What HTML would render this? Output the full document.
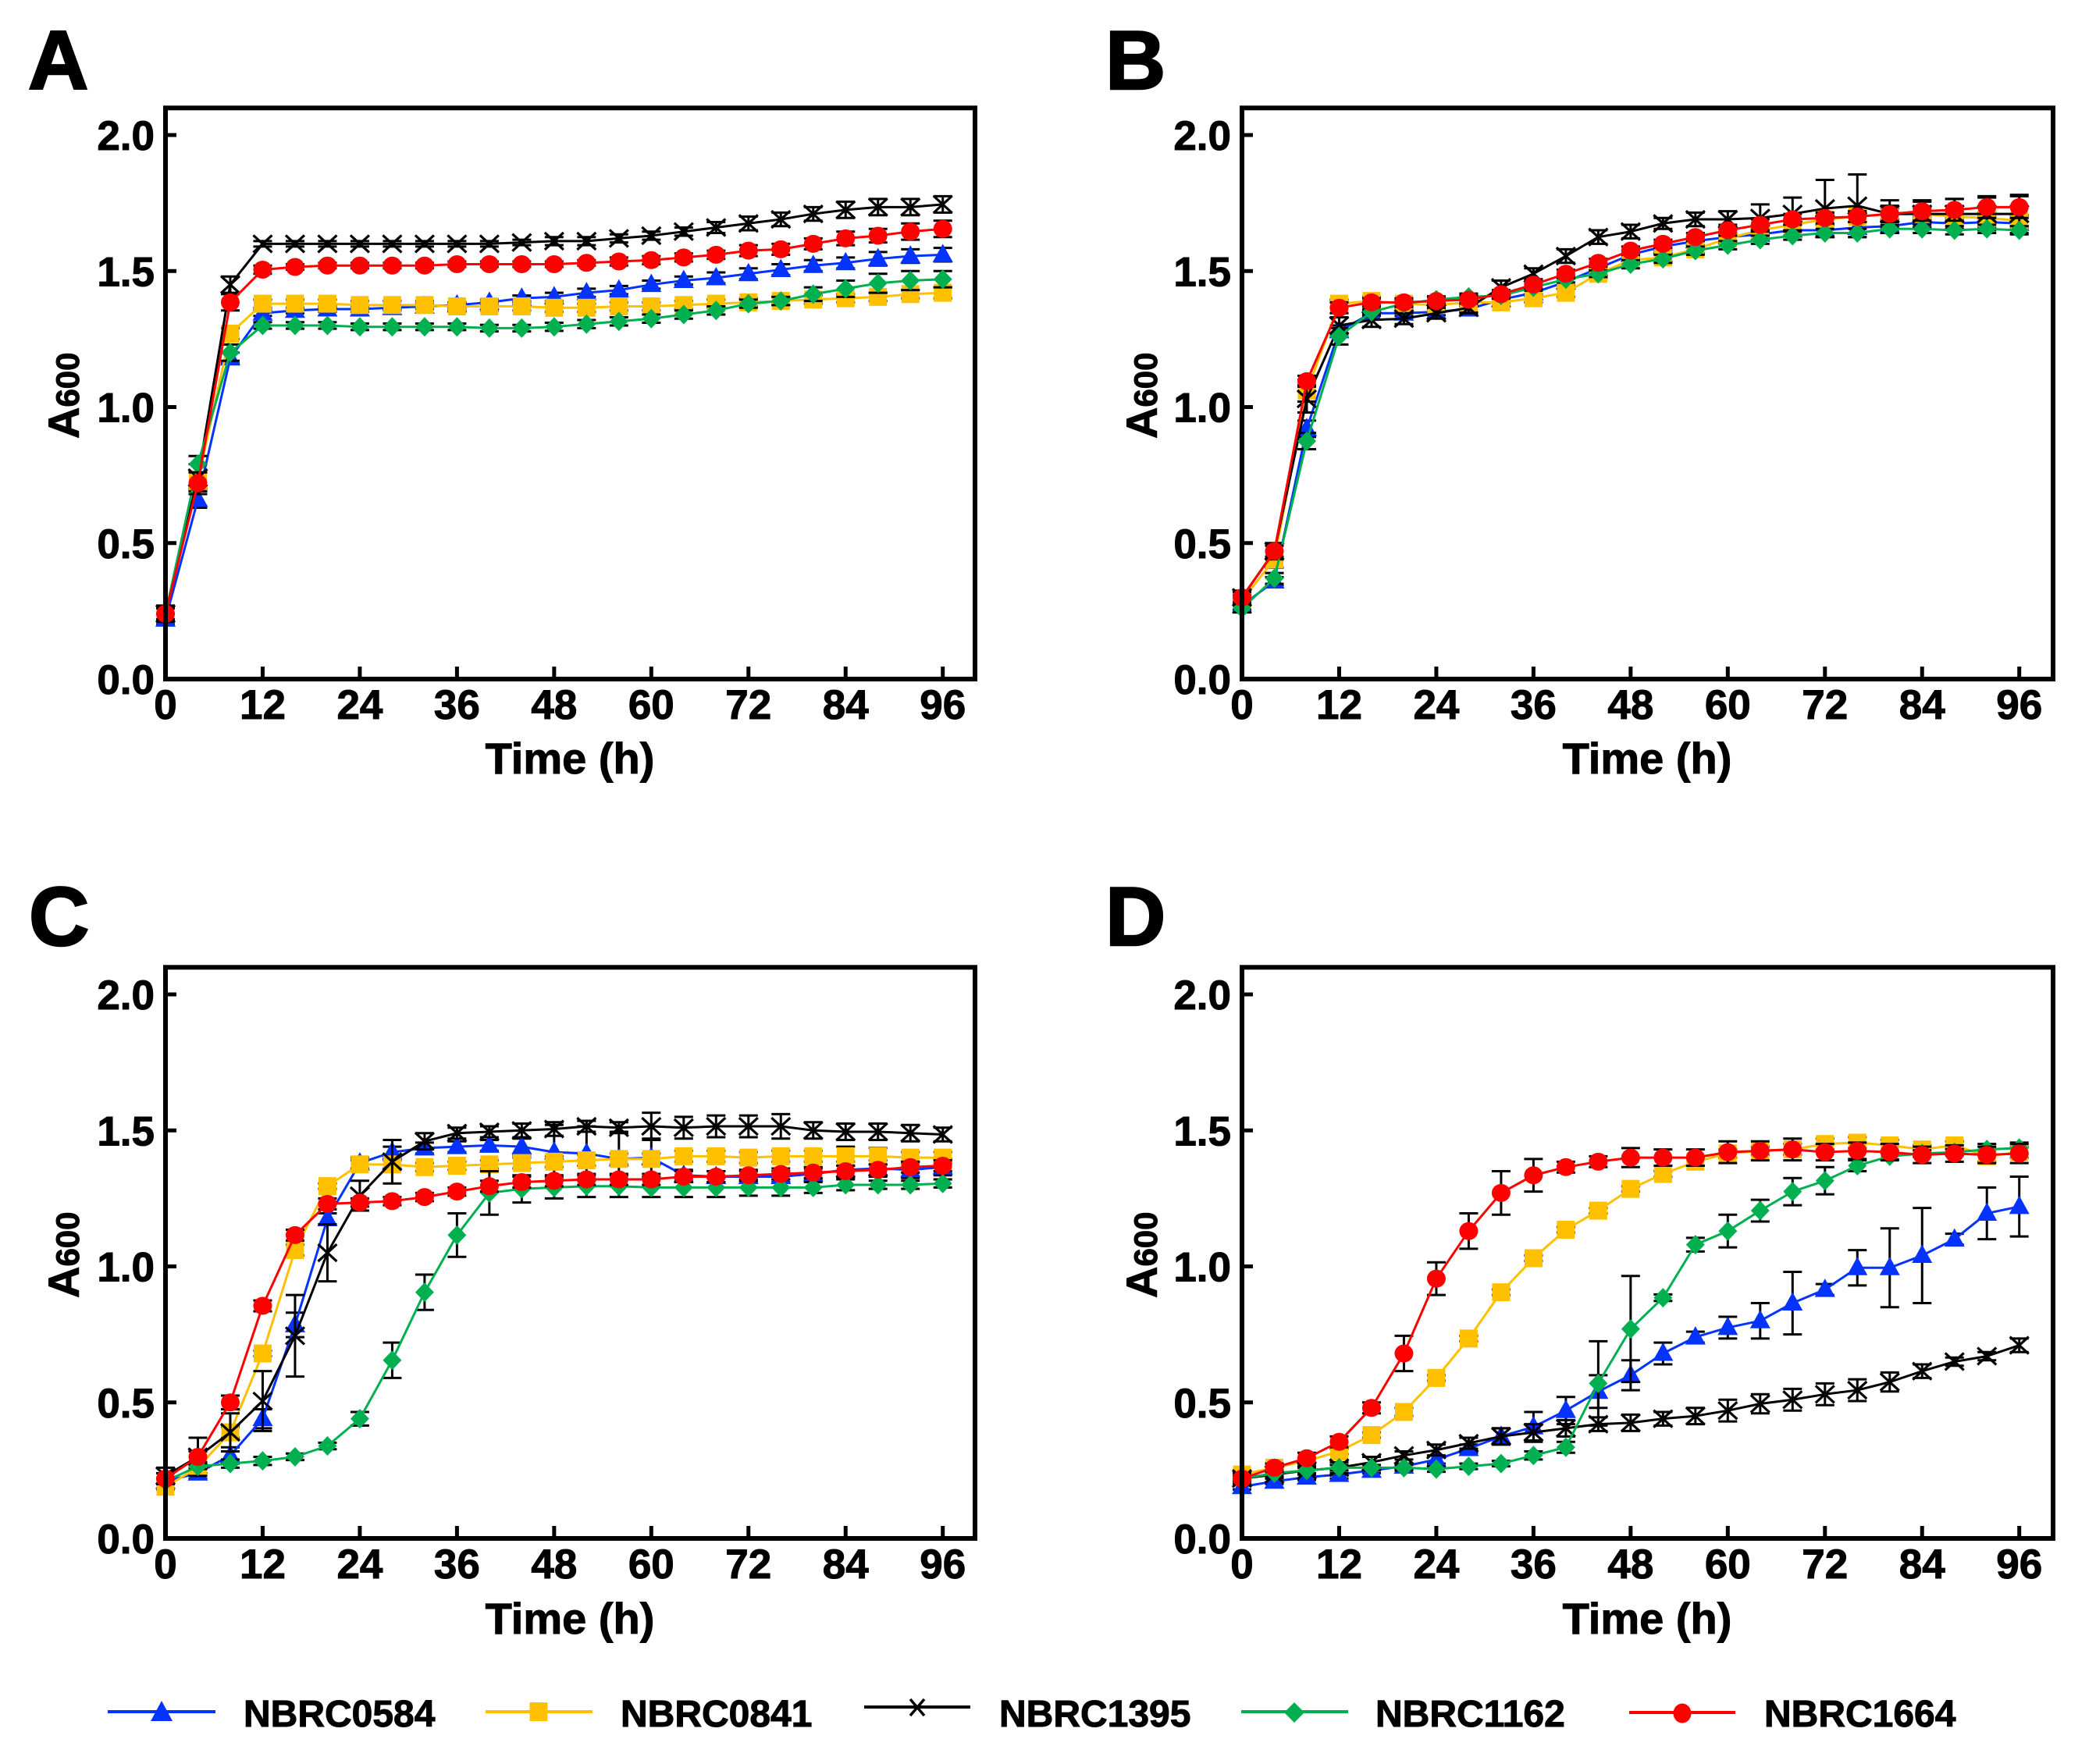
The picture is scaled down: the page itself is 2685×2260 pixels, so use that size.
<!DOCTYPE html>
<html>
<head>
<meta charset="utf-8">
<title>Growth curves</title>
<style>
html,body{margin:0;padding:0;background:#fff;}
svg{display:block;}
text{font-family:"Liberation Sans",Arial,sans-serif;font-weight:bold;fill:#000;stroke:#000;stroke-width:1px;}
</style>
</head>
<body>
<svg id="figure" xmlns="http://www.w3.org/2000/svg" width="2685" height="2260" viewBox="0 0 2685 2260">
<rect x="0" y="0" width="2685" height="2260" fill="#fff"/>
<text x="36" y="114" font-size="107" style="stroke-width:2.5px">A</text>
<text x="1416" y="114" font-size="107" style="stroke-width:2.5px">B</text>
<text x="37" y="1211" font-size="107" style="stroke-width:2.5px">C</text>
<text x="1416" y="1211" font-size="107" style="stroke-width:2.5px">D</text>
<text x="730" y="991" font-size="56" text-anchor="middle">Time (h)</text>
<text x="2110" y="991" font-size="56" text-anchor="middle">Time (h)</text>
<text x="730" y="2093" font-size="56" text-anchor="middle">Time (h)</text>
<text x="2110" y="2093" font-size="56" text-anchor="middle">Time (h)</text>
<text transform="translate(101,562) rotate(-90)"><tspan font-size="56">A</tspan><tspan font-size="42">600</tspan></text>
<text transform="translate(1482,562) rotate(-90)"><tspan font-size="56">A</tspan><tspan font-size="42">600</tspan></text>
<text transform="translate(101,1663) rotate(-90)"><tspan font-size="56">A</tspan><tspan font-size="42">600</tspan></text>
<text transform="translate(1482,1663) rotate(-90)"><tspan font-size="56">A</tspan><tspan font-size="42">600</tspan></text>

<g>
  <g>
    <line x1="138" y1="2193" x2="276" y2="2193" stroke="#0433ff" stroke-width="4"/>
    <polygon points="207,2179 221,2205 193,2205" fill="#0433ff"/>
    <text x="312" y="2212" font-size="48">NBRC0584</text>
  </g>
  <g>
    <line x1="622" y1="2193" x2="759" y2="2193" stroke="#ffc000" stroke-width="4"/>
    <rect x="678.5" y="2181" width="23" height="24" fill="#ffc000"/>
    <text x="795" y="2212" font-size="48">NBRC0841</text>
  </g>
  <g>
    <line x1="1107" y1="2187" x2="1243" y2="2187" stroke="#000" stroke-width="4"/>
    <path d="M1166,2177 L1184,2198 M1184,2177 L1166,2198" stroke="#000" stroke-width="3.5" fill="none"/>
    <text x="1280" y="2212" font-size="48">NBRC1395</text>
  </g>
  <g>
    <line x1="1590" y1="2193" x2="1727" y2="2193" stroke="#00b050" stroke-width="4"/>
    <polygon points="1658,2181 1671,2194 1658,2207 1645,2194" fill="#00b050"/>
    <text x="1762" y="2212" font-size="48">NBRC1162</text>
  </g>
  <g>
    <line x1="2087" y1="2194" x2="2223" y2="2194" stroke="#ff0000" stroke-width="4"/>
    <ellipse cx="2155" cy="2195" rx="11.5" ry="12.5" fill="#ff0000"/>
    <text x="2260" y="2212" font-size="48">NBRC1664</text>
  </g>
</g>
</svg>
<script>
var times = [0,4,8,12,16,20,24,28,32,36,40,44,48,52,56,60,64,68,72,76,80,84,88,92,96];
var xTickLabels = [0,12,24,36,48,60,72,84,96];
var yTickLabels = ["0.0","0.5","1.0","1.5","2.0"];
var yTickValues = [0,0.5,1,1.5,2];

var a0584 = [.22,.66,1.18,1.345,1.355,1.36,1.36,1.365,1.37,1.375,1.385,1.40,1.405,1.42,1.43,1.45,1.465,1.475,1.49,1.505,1.52,1.53,1.545,1.555,1.56];
var a0841 = [.24,.73,1.27,1.38,1.38,1.38,1.375,1.375,1.375,1.37,1.37,1.37,1.365,1.365,1.37,1.37,1.375,1.38,1.385,1.39,1.395,1.40,1.405,1.415,1.42];
var a1395 = [.24,.74,1.45,1.60,1.60,1.60,1.60,1.60,1.60,1.60,1.60,1.605,1.61,1.61,1.62,1.63,1.645,1.66,1.675,1.69,1.71,1.725,1.735,1.735,1.745];
var a1162 = [.24,.79,1.20,1.30,1.30,1.30,1.295,1.295,1.295,1.295,1.29,1.29,1.295,1.305,1.315,1.325,1.34,1.355,1.38,1.39,1.415,1.435,1.455,1.465,1.47];
var a1664 = [.24,.72,1.385,1.505,1.515,1.52,1.52,1.52,1.52,1.525,1.525,1.525,1.525,1.53,1.535,1.54,1.55,1.56,1.575,1.58,1.60,1.62,1.63,1.645,1.655];
var aErr0584 = [.02,.03,.02,.01,.01,.01,.01,.01,.01,.01,.01,.01,.015,.015,.015,.015,.015,.02,.02,.02,.02,.02,.025,.025,.025];
var aErr0841 = [.02,.03,.02,.015,.015,.015,.015,.015,.015,.015,.015,.015,.015,.015,.015,.015,.015,.015,.015,.015,.015,.015,.015,.015,.02];
var aErr1395 = [.03,.05,.03,.01,.01,.01,.01,.01,.01,.01,.01,.01,.015,.015,.015,.015,.015,.02,.025,.025,.025,.03,.03,.03,.03];
var aErr1162 = [.02,.03,.03,.012,.012,.012,.012,.012,.012,.012,.012,.012,.015,.015,.015,.015,.015,.015,.015,.015,.025,.03,.035,.035,.03];
var aErr1664 = [.02,.04,.03,.015,.01,.01,.01,.01,.01,.01,.01,.01,.01,.01,.015,.015,.015,.015,.02,.02,.02,.025,.025,.03,.03];

var b0584 = [.27,.36,.92,1.28,1.345,1.345,1.35,1.36,1.395,1.42,1.46,1.51,1.56,1.59,1.61,1.625,1.635,1.65,1.65,1.66,1.665,1.68,1.675,1.68,1.675];
var b0841 = [.29,.44,1.06,1.38,1.39,1.38,1.375,1.385,1.385,1.40,1.42,1.49,1.54,1.55,1.58,1.62,1.65,1.67,1.69,1.70,1.71,1.71,1.70,1.695,1.685];
var b1395 = [.30,.47,1.03,1.30,1.32,1.325,1.345,1.365,1.44,1.49,1.555,1.625,1.645,1.675,1.69,1.69,1.695,1.71,1.73,1.74,1.71,1.71,1.71,1.71,1.71];
var b1162 = [.26,.37,.875,1.26,1.35,1.38,1.395,1.405,1.41,1.44,1.47,1.49,1.525,1.545,1.575,1.595,1.615,1.63,1.64,1.64,1.655,1.655,1.65,1.655,1.65];
var b1664 = [.30,.47,1.095,1.365,1.385,1.385,1.39,1.395,1.415,1.45,1.49,1.53,1.575,1.60,1.625,1.65,1.67,1.69,1.695,1.70,1.71,1.72,1.725,1.735,1.735];
var bErr0584 = [.015,.015,.03,.02,.01,.01,.012,.012,.012,.012,.012,.012,.015,.015,.015,.015,.02,.02,.02,.02,.02,.02,.02,.02,.02];
var bErr0841 = [.02,.03,.04,.015,.015,.015,.015,.015,.015,.015,.015,.015,.015,.015,.015,.015,.02,.02,.02,.02,.02,.02,.02,.02,.02];
var bErr1395 = [.025,.03,.05,.03,.025,.02,.02,.02,.025,.02,.025,.025,.025,.02,.025,.03,.05,.06,.105,.115,.05,.05,.055,.06,.07];
var bErr1162 = [.015,.02,.03,.03,.01,.012,.012,.012,.012,.012,.012,.012,.015,.015,.015,.015,.015,.015,.015,.015,.015,.015,.015,.015,.015];
var bErr1664 = [.02,.02,.02,.02,.015,.015,.015,.015,.015,.015,.015,.015,.015,.015,.015,.02,.02,.02,.02,.02,.03,.035,.04,.04,.04];

var c0584 = [.21,.24,.305,.44,.785,1.175,1.38,1.42,1.435,1.44,1.445,1.44,1.42,1.415,1.395,1.40,1.335,1.33,1.33,1.33,1.34,1.355,1.36,1.355,1.365];
var c0841 = [.19,.26,.39,.68,1.06,1.295,1.375,1.375,1.365,1.37,1.375,1.38,1.385,1.39,1.395,1.395,1.405,1.405,1.40,1.405,1.405,1.405,1.405,1.40,1.40];
var c1395 = [.23,.30,.39,.505,.745,1.05,1.26,1.385,1.46,1.49,1.495,1.50,1.505,1.515,1.51,1.515,1.51,1.515,1.515,1.515,1.50,1.495,1.495,1.49,1.485];
var c1162 = [.21,.265,.275,.285,.30,.34,.44,.655,.905,1.115,1.27,1.285,1.29,1.295,1.295,1.29,1.29,1.29,1.29,1.29,1.29,1.30,1.30,1.30,1.305];
var c1664 = [.22,.30,.50,.855,1.115,1.23,1.235,1.24,1.255,1.275,1.295,1.31,1.315,1.32,1.32,1.32,1.33,1.33,1.335,1.34,1.345,1.35,1.355,1.365,1.37];
var cErr0584 = [.01,.02,.03,.035,.045,.02,.02,.02,.02,.02,.02,.03,.10,.10,.10,.07,.02,.02,.02,.02,.02,.03,.03,.03,.03];
var cErr0841 = [.01,.02,.02,.01,.02,.01,.015,.015,.015,.015,.015,.02,.02,.02,.02,.02,.02,.02,.02,.02,.02,.035,.03,.02,.02];
var cErr1395 = [.03,.07,.07,.11,.15,.105,.055,.08,.03,.02,.02,.025,.025,.02,.02,.05,.04,.04,.04,.045,.03,.03,.03,.03,.025];
var cErr1162 = [.01,.01,.015,.015,.012,.012,.025,.065,.065,.08,.08,.05,.04,.04,.04,.035,.035,.035,.03,.03,.02,.02,.015,.015,.015];
var cErr1664 = [.02,.02,.025,.02,.02,.02,.015,.015,.015,.015,.02,.02,.02,.02,.02,.02,.02,.02,.02,.02,.02,.02,.02,.02,.02];

var d0584 = [.19,.21,.225,.235,.25,.265,.29,.33,.375,.41,.47,.54,.60,.68,.74,.775,.80,.865,.915,.995,.995,1.04,1.10,1.195,1.22];
var d0841 = [.235,.26,.285,.32,.38,.465,.59,.735,.905,1.03,1.135,1.205,1.285,1.34,1.385,1.415,1.425,1.43,1.45,1.455,1.445,1.43,1.445,1.405,1.42];
var d1395 = [.22,.235,.25,.26,.28,.305,.325,.35,.375,.39,.405,.42,.425,.44,.45,.47,.495,.51,.53,.545,.575,.615,.65,.67,.71];
var d1162 = [.22,.24,.25,.26,.26,.26,.255,.265,.275,.305,.335,.57,.77,.885,1.08,1.13,1.205,1.275,1.315,1.37,1.405,1.415,1.42,1.43,1.435];
var d1664 = [.22,.26,.295,.355,.48,.68,.955,1.13,1.27,1.335,1.365,1.385,1.40,1.40,1.40,1.42,1.425,1.43,1.42,1.425,1.42,1.41,1.415,1.41,1.415];
var dErr0584 = [.01,.01,.01,.015,.01,.01,.015,.015,.03,.055,.05,.06,.055,.04,.02,.04,.065,.115,.02,.065,.145,.175,.02,.095,.11];
var dErr0841 = [.015,.015,.01,.01,.01,.015,.01,.01,.01,.01,.01,.01,.01,.01,.015,.015,.015,.02,.02,.02,.02,.015,.015,.02,.02];
var dErr1395 = [.01,.01,.015,.02,.02,.015,.02,.02,.03,.03,.03,.025,.03,.025,.03,.04,.035,.04,.04,.04,.035,.025,.015,.015,.025];
var dErr1162 = [.01,.01,.01,.01,.01,.01,.01,.01,.01,.015,.02,.155,.195,.012,.025,.06,.04,.05,.05,.02,.012,.012,.012,.02,.02];
var dErr1664 = [.02,.015,.02,.02,.02,.065,.06,.065,.08,.06,.02,.02,.035,.03,.03,.04,.035,.04,.03,.03,.03,.03,.03,.03,.035];

var seriesNames = ["nbrc0584","nbrc0841","nbrc1395","nbrc1162","nbrc1664"];
var seriesColors = ["#0433ff","#ffc000","#000000","#00b050","#ff0000"];
var panelNames = ["a","b","c","d"];
var panelValues = [[a0584,a0841,a1395,a1162,a1664],[b0584,b0841,b1395,b1162,b1664],[c0584,c0841,c1395,c1162,c1664],[d0584,d0841,d1395,d1162,d1664]];
var panelErrors = [[aErr0584,aErr0841,aErr1395,aErr1162,aErr1664],[bErr0584,bErr0841,bErr1395,bErr1162,bErr1664],[cErr0584,cErr0841,cErr1395,cErr1162,cErr1664],[dErr0584,dErr0841,dErr1395,dErr1162,dErr1664]];

var NS = "http://www.w3.org/2000/svg";
var svg = document.getElementById("figure");
function mk(tag, attrs, parent) {
  var n = document.createElementNS(NS, tag);
  for (var k in attrs) n.setAttribute(k, attrs[k]);
  parent.appendChild(n);
  return n;
}
var FRAME_W = 1037, PLOT_H = 731.7, XSCALE = 10.372, YSCALE = 348.5;

function drawMarker(kind, px, py, color, parent) {
  var el;
  if (kind === 0) {
    el = mk("polygon", {points: (px)+","+(py-14)+" "+(px+13)+","+(py+9.5)+" "+(px-13)+","+(py+9.5), fill: color}, parent);
  } else if (kind === 1) {
    el = mk("rect", {x: px-11.5, y: py-11.5, width: 23, height: 23, fill: color}, parent);
  } else if (kind === 2) {
    el = mk("path", {d: "M"+(px-12)+","+(py-11)+" L"+(px+12)+","+(py+11)+" M"+(px+12)+","+(py-11)+" L"+(px-12)+","+(py+11), stroke: color, "stroke-width": 3.2, fill: "none"}, parent);
  } else if (kind === 3) {
    el = mk("polygon", {points: px+","+(py-12.5)+" "+(px+12)+","+py+" "+px+","+(py+12.5)+" "+(px-12)+","+py, fill: color}, parent);
  } else {
    el = mk("ellipse", {cx: px, cy: py, rx: 12, ry: 11.5, fill: color}, parent);
  }
  return el;
}

function drawPanel(p, left, bottom) {
  var sx = function (t) { return left + t * XSCALE; };
  var sy = function (v) { return bottom - v * YSCALE; };
  var g = mk("g", {}, svg);
  
  

  for (var i = 0; i < xTickLabels.length; i++) {
    var tx = sx(xTickLabels[i]);
    var xt = mk("line", {x1: tx, x2: tx, y1: bottom, y2: bottom - 16, stroke: "#000", "stroke-width": 5}, g);
    
    
    var xl = mk("text", {x: tx, y: bottom + 51, "font-size": 53, "text-anchor": "middle"}, g);
    xl.textContent = xTickLabels[i];
    
    
  }
  for (var j = 0; j < yTickValues.length; j++) {
    var ty = sy(yTickValues[j]);
    var yt = mk("line", {x1: left, x2: left + 14, y1: ty, y2: ty, stroke: "#000", "stroke-width": 5}, g);
    
    
    var yl = mk("text", {x: left - 14, y: ty + 19, "font-size": 53, "text-anchor": "end"}, g);
    yl.textContent = yTickLabels[j];
    
    
  }

  for (var s = 0; s < 5; s++) {
    var vals = panelValues[p][s], errs = panelErrors[p][s], col = seriesColors[s];
    var sg = mk("g", {}, g);
    
    
    var pts = [];
    for (var n = 0; n < times.length; n++) {
      var ex = sx(times[n]), yv = vals[n], er = errs[n];
      pts.push(ex + "," + sy(yv));
      var eb = mk("path", {d: "M" + ex + "," + sy(yv - er) + " V" + sy(yv + er) + " M" + (ex - 12) + "," + sy(yv + er) + " H" + (ex + 12) + " M" + (ex - 12) + "," + sy(yv - er) + " H" + (ex + 12), stroke: "#000", "stroke-width": 3, fill: "none"}, sg);
      
      
    }
    var ln = mk("polyline", {points: pts.join(" "), fill: "none", stroke: col, "stroke-width": 3, "stroke-linejoin": "round"}, sg);
    
    
    for (var m = 0; m < times.length; m++) {
      var mark = drawMarker(s, sx(times[m]), sy(vals[m]), col, sg);
      
      
    }
  }

  var frame = mk("rect", {x: left, y: bottom - PLOT_H, width: FRAME_W + (left > 1000 ? 2 : 0), height: PLOT_H, fill: "none", stroke: "#000", "stroke-width": 6, "stroke-linejoin": "miter"}, g);
  
  
}

drawPanel(0, 212, 870);
drawPanel(1, 1591, 870);
drawPanel(2, 212, 1971);
drawPanel(3, 1591, 1971);
</script>
</body>
</html>
